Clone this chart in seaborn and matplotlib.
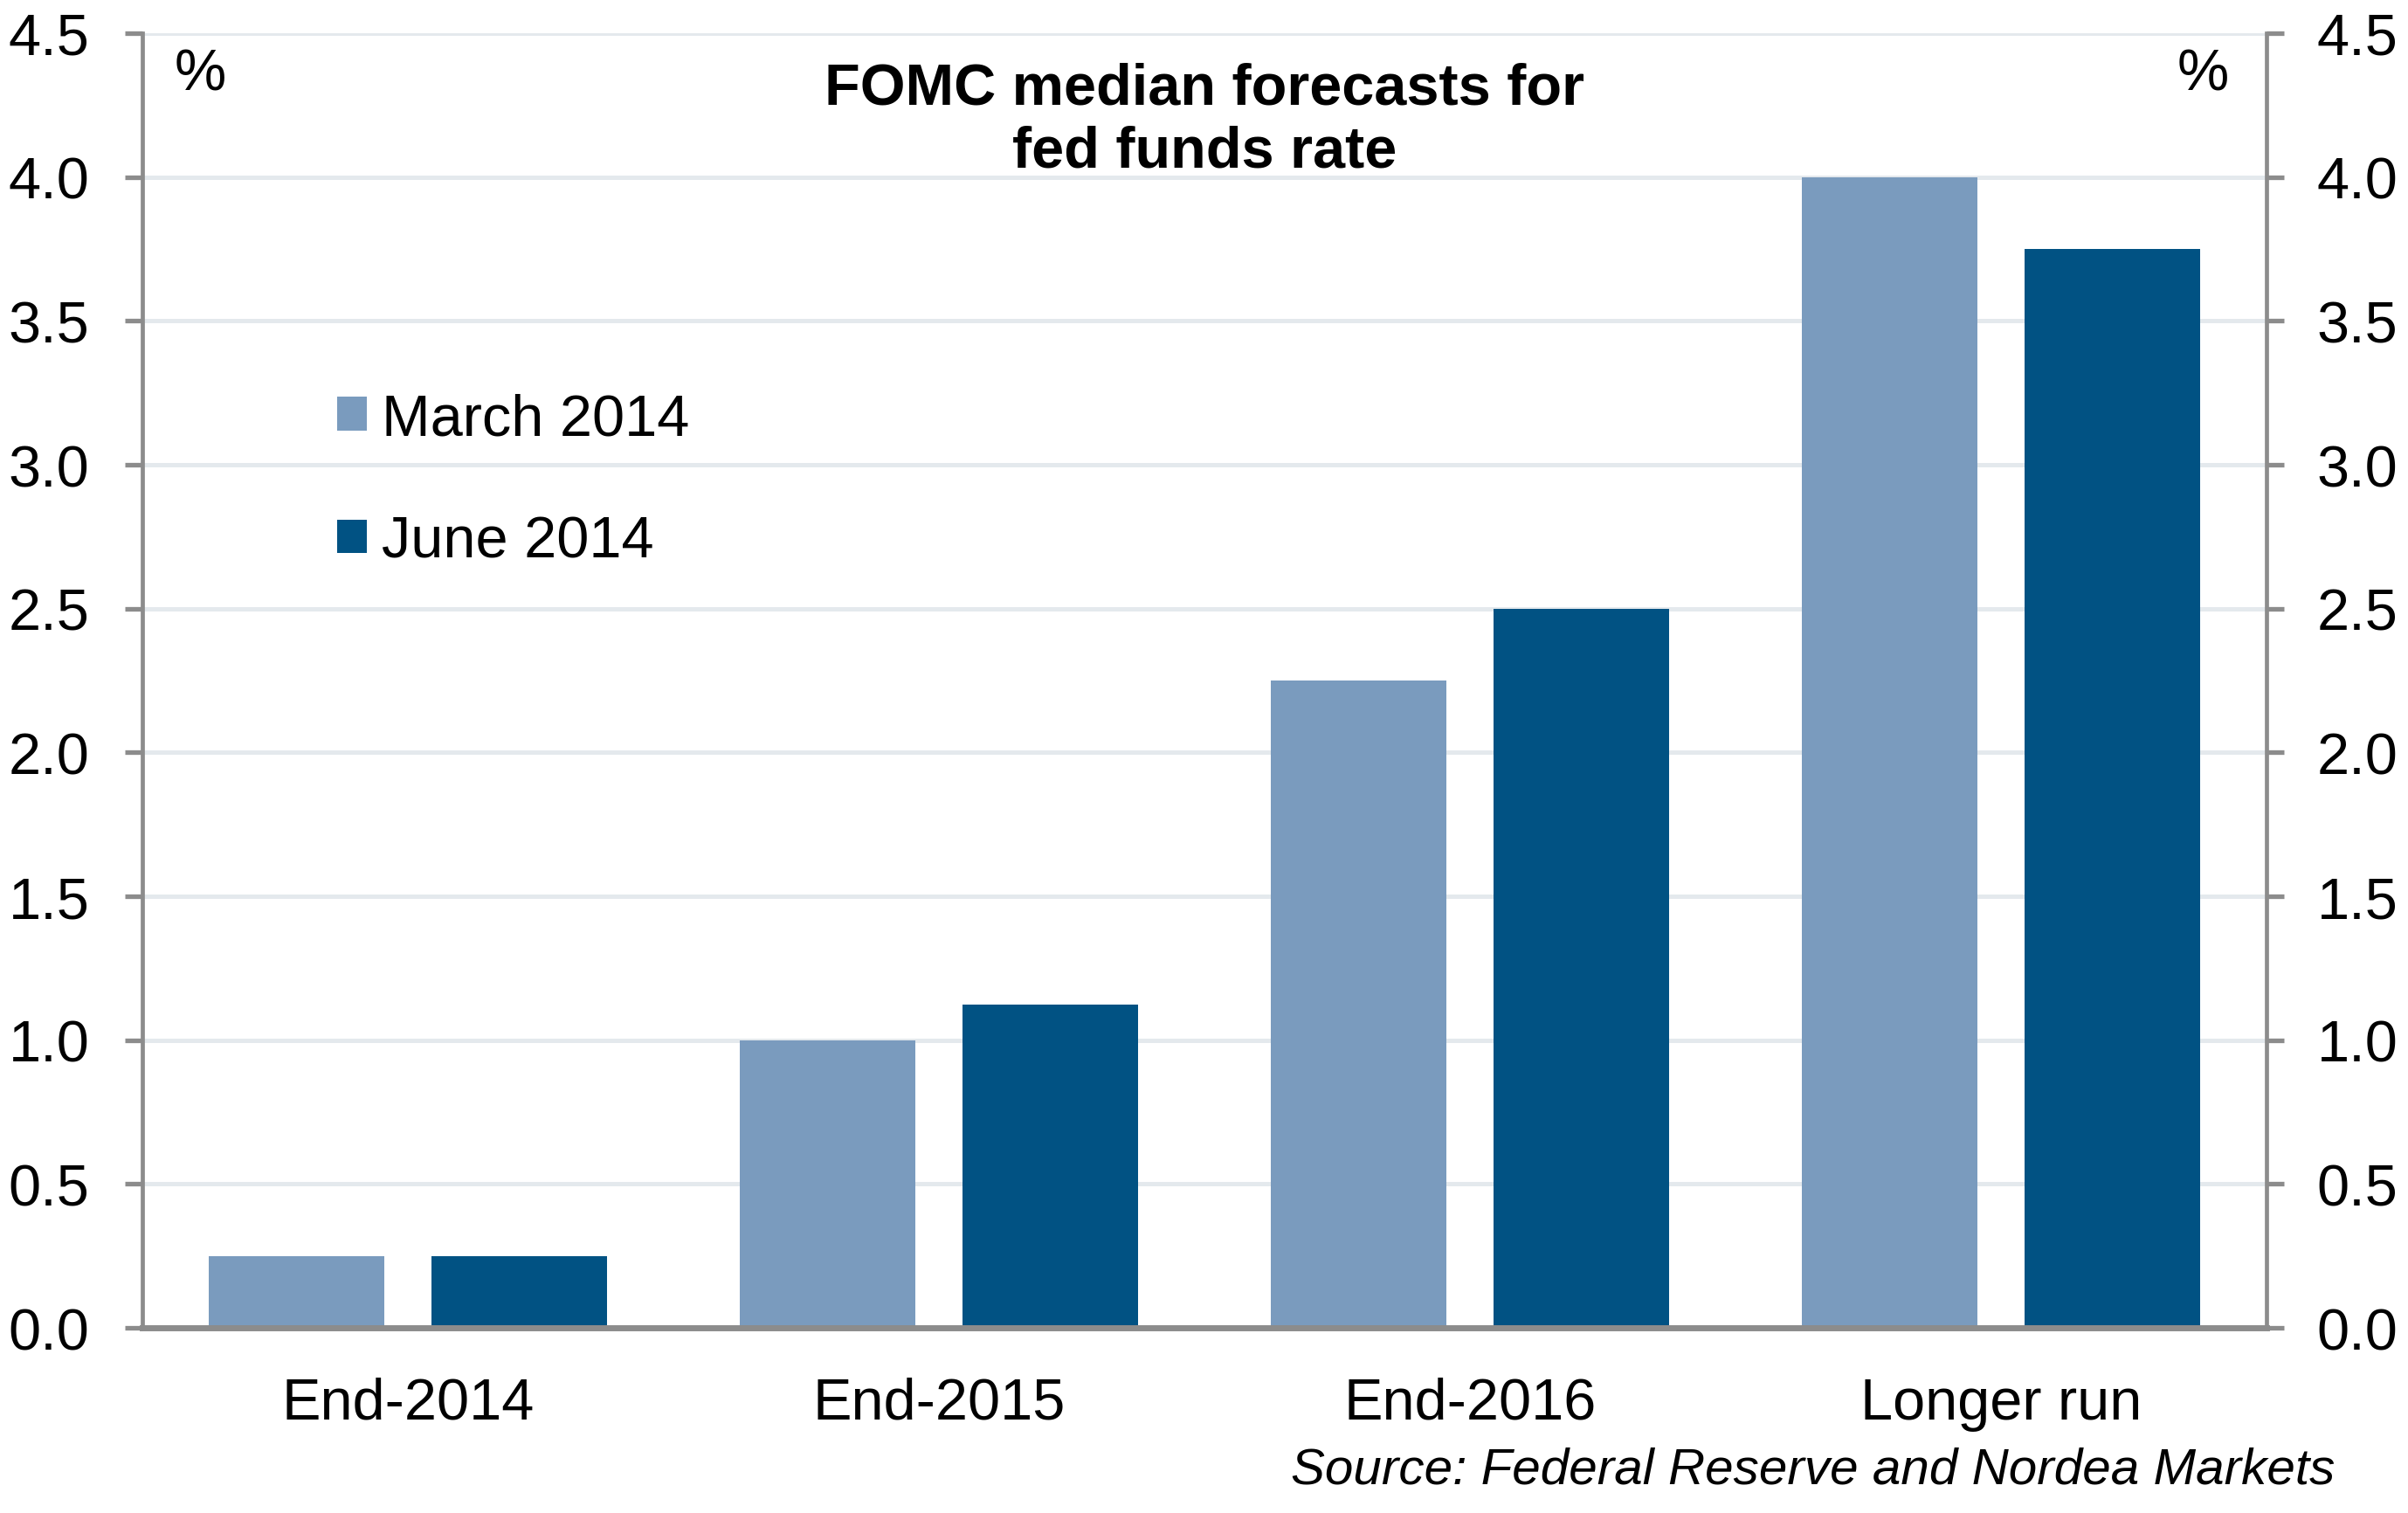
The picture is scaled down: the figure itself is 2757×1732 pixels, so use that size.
import numpy as np
import pandas as pd
import seaborn as sns
import matplotlib.pyplot as plt
from matplotlib.ticker import FormatStrFormatter

categories = ["End-2014", "End-2015", "End-2016", "Longer run"]
march_2014 = [0.25, 1.0, 2.25, 4.0]
june_2014 = [0.25, 1.125, 2.5, 3.75]
series_names = ["March 2014", "June 2014"]
y_ticks = [0.0, 0.5, 1.0, 1.5, 2.0, 2.5, 3.0, 3.5, 4.0, 4.5]

df = pd.DataFrame({
    "horizon": categories * 2,
    "rate": march_2014 + june_2014,
    "forecast": [series_names[0]] * 4 + [series_names[1]] * 4,
})

sns.set_theme(style="white")
plt.rcParams["font.family"] = ["Liberation Sans", "DejaVu Sans"]
plt.rcParams["text.color"] = "black"
plt.rcParams["xtick.color"] = "black"
plt.rcParams["ytick.color"] = "black"

fs = 48
spine_col = "#8C8C8C"
grid_col = "#E4E9ED"

dpi = 100
fig, ax = plt.subplots(figsize=(2757 / dpi, 1733 / dpi), dpi=dpi)
fig.subplots_adjust(left=0.0591, right=0.9413, top=0.9775, bottom=0.1223)

sns.barplot(data=df, x="horizon", y="rate", hue="forecast", ax=ax,
            palette=["#7A9BBE", "#015283"], width=0.84, gap=0.214,
            saturation=1, linewidth=0, zorder=3)

ax.set_xlim(-0.5, 3.5)
ax.set_ylim(0, 4.5)
ax.set_yticks(y_ticks)
ax.yaxis.set_major_formatter(FormatStrFormatter("%.1f"))
ax.set_xlabel("")
ax.set_ylabel("")
ax.yaxis.grid(True, color=grid_col, linewidth=3.6, zorder=0)
ax.set_axisbelow(True)

for side in ["top", "right"]:
    ax.spines[side].set_visible(False)
ax.spines["left"].set_color(spine_col)
ax.spines["left"].set_linewidth(3.4)
ax.spines["bottom"].set_color(spine_col)
ax.spines["bottom"].set_linewidth(5)
ax.spines["bottom"].set_zorder(5)
ax.tick_params(axis="y", direction="out", length=14.5, width=3.8,
               color=spine_col, labelcolor="black", labelsize=fs, pad=29)
ax.tick_params(axis="x", length=0, labelsize=fs, labelcolor="black", pad=40)

# right-hand axis, same scale
ax2 = ax.twinx()
ax2.set_ylim(ax.get_ylim())
ax2.set_yticks(y_ticks)
ax2.yaxis.set_major_formatter(FormatStrFormatter("%.1f"))
for side in ["top", "left", "bottom"]:
    ax2.spines[side].set_visible(False)
ax2.spines["right"].set_color(spine_col)
ax2.spines["right"].set_linewidth(3.4)
ax2.tick_params(axis="y", direction="out", length=14.5, width=3.8,
                color=spine_col, labelcolor="black", labelsize=fs, pad=27)
ax2.grid(False)

# legend
handles, labels = ax.get_legend_handles_labels()
ax.legend(handles, labels, loc="upper left", bbox_to_anchor=(0.067, 0.763),
          frameon=False, fontsize=fs, handlelength=0.51, handleheight=0.51,
          handletextpad=0.25, labelspacing=1.18)

ax.text(0.0152, 0.989, "%", transform=ax.transAxes, ha="left", va="top",
        fontsize=fs)
ax.text(0.982, 0.989, "%", transform=ax.transAxes, ha="right", va="top",
        fontsize=fs)
ax.text(0.5, 0.978, "FOMC median forecasts for\nfed funds rate",
        transform=ax.transAxes, ha="center", va="top", fontsize=fs,
        fontweight="bold", linespacing=1.2)

fig.text(0.9695, 0.0285, "Source: Federal Reserve and Nordea Markets",
         ha="right", va="center", fontsize=42, fontstyle="italic")

fig.savefig("out.png", dpi=dpi)
